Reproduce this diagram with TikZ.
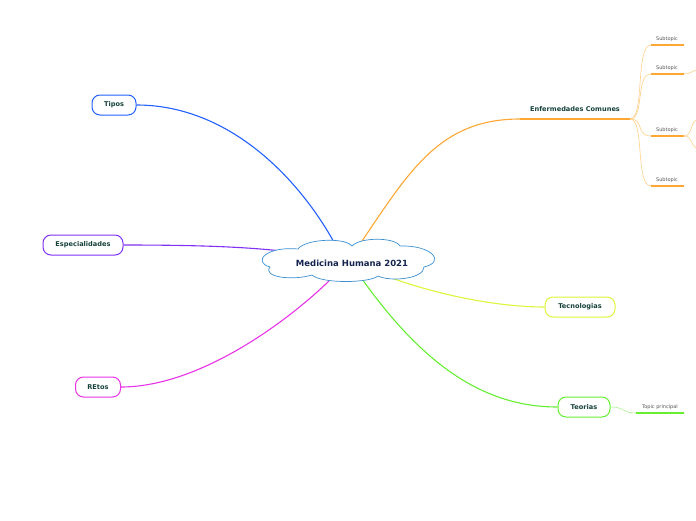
\documentclass[tikz,border=0pt]{standalone}
\usepackage{fontspec}
\setmainfont{DejaVu Sans}
\usetikzlibrary{backgrounds}
\definecolor{cblue}{HTML}{2260FF}
\definecolor{cpurple}{HTML}{8030F5}
\definecolor{cmag}{HTML}{E933E9}
\definecolor{corange}{HTML}{FFA733}
\definecolor{clorange}{HTML}{FFCF88}
\definecolor{cyellow}{HTML}{DDF53A}
\definecolor{cgreen}{HTML}{66EE33}
\definecolor{clgreen}{HTML}{AAF590}
\definecolor{cloudline}{HTML}{3A8FD0}
\definecolor{txtgreen}{HTML}{16423A}
\definecolor{txtnavy}{HTML}{14244E}
\definecolor{txtgray}{HTML}{555555}
\tikzset{
  mainbox/.style={draw, rounded corners=8pt, line width=1pt, fill=white, minimum height=20pt, inner sep=0pt, font=\bfseries\fontsize{6.6}{7}\selectfont, text=txtgreen},
  conn/.style={line width=1.1pt},
  subconn/.style={line width=0.6pt, clorange},
  sublabel/.style={font=\fontsize{5}{6}\selectfont, text=txtgray, inner sep=0pt},
  uline/.style={line width=1.2pt},
  cloudstyle/.style={draw=cloudline, line width=0.7pt, fill=white},
}
\begin{document}
\begin{tikzpicture}[x=1pt,y=-1pt]
\useasboundingbox (0,0) rectangle (696,520);

% central cloud
\draw[cloudstyle] (270,267) .. controls (252,262) and (266,246) .. (298,249)
  .. controls (305,239) and (345,237) .. (352,246)
  .. controls (360,237) and (395,237) .. (400,246)
  .. controls (432,245) and (446,262) .. (424,267)
  .. controls (424,279) and (390,282) .. (378,276)
  .. controls (370,283) and (322,284) .. (312,275)
  .. controls (292,281) and (262,277) .. cycle;
\node[font=\bfseries\fontsize{8.5}{9}\selectfont, text=txtnavy] (ctext) at (352,263) {Medicina Humana 2021};

\coordinate (cTop1) at (335,244);
\coordinate (cTop2) at (360,244);
\coordinate (cLeft) at (290,252);
\coordinate (cBotL) at (333,277);
\coordinate (cBotR) at (386,276);
\coordinate (cBot2) at (362,279);

\node[mainbox, draw=cblue, minimum width=44pt] (tipos) at (114,105) {Tipos};
\node[mainbox, draw=cpurple, minimum width=80pt] (esp) at (83,245) {Especialidades};
\node[mainbox, draw=cmag, minimum width=45pt] (retos) at (98,387) {REtos};
\node[mainbox, draw=cyellow, minimum width=70pt] (tec) at (580,307) {Tecnologias};
\node[mainbox, draw=cgreen, minimum width=52pt] (teo) at (584,407) {Teorias};

% Enfermedades Comunes branch
\coordinate (ecL) at (520,119);
\coordinate (ecR) at (630,119);
\node[font=\bfseries\fontsize{6.6}{7}\selectfont, text=txtgreen, inner sep=0pt] (ec) at (575,109) {Enfermedades Comunes};

\foreach \n/\ty/\uy in {1/39/45, 2/68/74, 3/130/136, 4/180/186}{
  \node[sublabel] (s\n) at (667,\ty) {Subtopic};
  \coordinate (s\n L) at (651,\uy);
  \coordinate (s\n R) at (684,\uy);
}
\coordinate (o1) at (696,70);
\coordinate (o2) at (696,120);
\coordinate (o3) at (696,148);

\node[sublabel] (tp) at (660,407) {Topic principal};
\coordinate (tpL) at (636,413);
\coordinate (tpR) at (684,413);

\begin{scope}[on background layer]
\draw[conn, cblue] (tipos.east) .. controls (230,105) and (300,180) .. (cTop1);
\draw[conn, cpurple] (esp.east) .. controls (200,245) and (250,247) .. (cLeft);
\draw[conn, cmag] (retos.east) .. controls (200,387) and (290,320) .. (cBotL);
\draw[conn, cyellow] (cBotR) .. controls (440,296) and (500,307) .. (tec.west);
\draw[conn, cgreen] (cBot2) .. controls (420,360) and (480,407) .. (teo.west);
\draw[conn, corange] (cTop2) .. controls (410,170) and (440,119) .. (ecL);
\draw[uline, corange] (ecL) -- (ecR);
\foreach \n/\uy in {1/45, 2/74, 3/136, 4/186}{
  \draw[subconn] (ecR) .. controls (645,119) and (635,\uy) .. (s\n L);
  \draw[uline, corange] (s\n L) -- (s\n R);
}
\draw[subconn] (s2R) .. controls (690,74) and (692,71) .. (o1);
\draw[subconn] (s3R) .. controls (692,136) and (690,124) .. (o2);
\draw[subconn] (s3R) .. controls (692,136) and (690,144) .. (o3);
\draw[line width=0.6pt, clgreen] (teo.east) .. controls (625,407) and (622,413) .. (tpL);
\draw[uline, cgreen] (tpL) -- (tpR);
\end{scope}
\end{tikzpicture}
\end{document}
